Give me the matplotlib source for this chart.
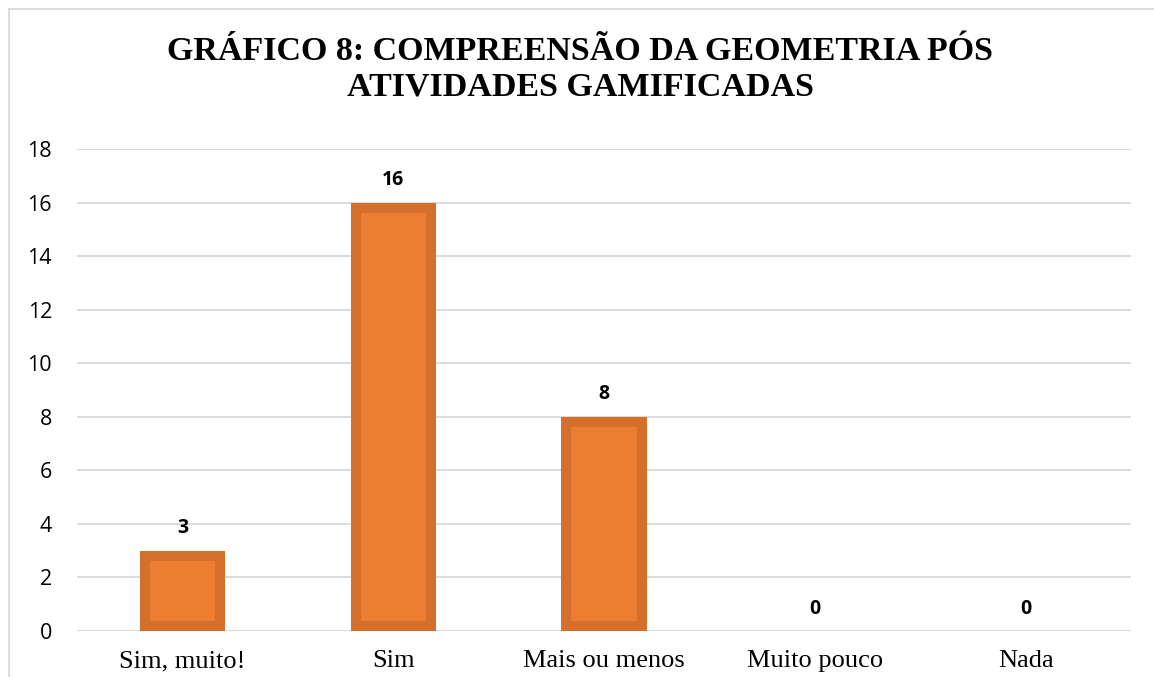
import matplotlib.pyplot as plt
from matplotlib.lines import Line2D

categorias = ["Sim, muito!", "Sim", "Mais ou menos", "Muito pouco", "Nada"]
valores = [3, 16, 8, 0, 0]
titulo = "GRÁFICO 8: COMPREENSÃO DA GEOMETRIA PÓS\nATIVIDADES GAMIFICADAS"

fig = plt.figure(figsize=(11.54, 6.77), dpi=100)
ax = fig.add_axes([77 / 1154, 1 - 631 / 677, (1131 - 77) / 1154, (631 - 149) / 677])

x = range(len(categorias))
barras = ax.bar(x, valores, width=0.405, color="#ED7D31", edgecolor="#D5702C",
                linewidth=14.5, zorder=3)
# borda só por dentro, como no Excel
for b in barras:
    b.set_clip_path(b)

for i, v in enumerate(valores):
    ax.annotate(str(v), (i, v), xytext=(0, 9), textcoords="offset points",
                ha="center", va="bottom", fontsize=14, fontweight="bold",
                family="Open Sans", color="#000000")

ax.set_xlim(-0.5, len(categorias) - 0.5)
ax.set_ylim(0, 18)
ax.set_yticks(range(0, 19, 2))
ax.yaxis.grid(True, color="#D9D9D9", linewidth=1.3, zorder=0)
ax.set_axisbelow(True)
for s in ax.spines.values():
    s.set_visible(False)
ax.tick_params(length=0)
ax.tick_params(axis="y", pad=18, labelsize=15.5)
ax.tick_params(axis="x", pad=14)
for t in ax.get_yticklabels():
    t.set_family("Open Sans")
ax.set_xticks(list(x))
ax.set_xticklabels(categorias, family="Liberation Serif", fontsize=19)

fig.text(0.503, 1 - 69 / 677, titulo, ha="center", va="center",
         family="Liberation Serif", fontweight="bold", fontsize=24.5,
         linespacing=1.2)

# moldura do gráfico (esquerda e topo)
fig.add_artist(Line2D([8.5 / 1154, 8.5 / 1154], [0, 1 - 8.5 / 677],
                      transform=fig.transFigure, color="#D9D9D9", linewidth=1.3))
fig.add_artist(Line2D([8.5 / 1154, 1], [1 - 8.5 / 677, 1 - 8.5 / 677],
                      transform=fig.transFigure, color="#D9D9D9", linewidth=1.3))

fig.savefig("out.png", dpi=100)
